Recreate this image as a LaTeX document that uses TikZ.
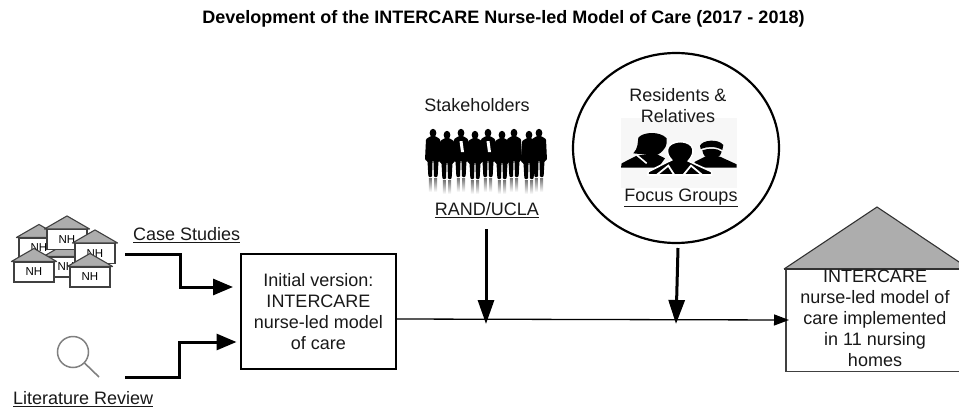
\documentclass[tikz,border=0pt]{standalone}
\usepackage{fontspec}
\setmainfont{Liberation Sans}
\usetikzlibrary{arrows.meta,calc}
\newcommand{\fs}[1]{\fontsize{#1}{#1}\selectfont}
\newcommand{\smallhouse}[3]{%
  \node[nhbox,minimum width=40pt,minimum height=20pt] (#3) at (#1,#2) {NH};
  \fill[roofgray] ($(#3.north west)+(-2,0)$) -- ($(#3.north)+(0,-13)$) -- ($(#3.north east)+(2,0)$) -- cycle;
  \draw[line width=1.1pt,draw=black!75,line join=round] ($(#3.north west)+(-2,0)$) -- ($(#3.north)+(0,-13)$) -- ($(#3.north east)+(2,0)$) -- cycle;
}
\newcommand{\suit}[2]{%
  \fill[black] (#1,#2) circle[x radius=3.4,y radius=4.2];
  \fill[black,rounded corners=1pt] (#1-2,#2+3) -- (#1+2,#2+3) -- (#1+7,#2+6) -- (#1+8,#2+27) -- (#1+5.5,#2+28) -- (#1+4.6,#2+44) -- (#1+1,#2+44) -- (#1+.4,#2+27) -- (#1-.4,#2+27) -- (#1-1,#2+44) -- (#1-4.6,#2+44) -- (#1-5.5,#2+28) -- (#1-8,#2+27) -- (#1-7,#2+6) -- cycle;
  \shade[top color=black!55,bottom color=white] (#1-4.2,#2+45) rectangle (#1-1.2,#2+59);
  \shade[top color=black!55,bottom color=white] (#1+1.2,#2+45) rectangle (#1+4.2,#2+59);
}
\definecolor{roofgray}{HTML}{ADADAD}
\tikzset{
  x=1pt,y=-1pt,
  nhbox/.style={draw=black!75,fill=white,line width=1.1pt,inner sep=0pt,font=\fs{11.5}},
  txt/.style={align=center,inner sep=0pt,font=\fs{18},text=black!90},
  thick arrow/.style={line width=3pt,-{Triangle[length=20pt,width=16pt]},line join=miter},
  vert arrow/.style={line width=3pt,-{Triangle[length=24pt,width=16pt]}},
  main arrow/.style={line width=1.3pt,-{Triangle[length=15pt,width=11pt]}},
}
\begin{document}
\begin{tikzpicture}
\useasboundingbox (0,0) rectangle (959,410);
\node[inner sep=0pt,font=\bfseries\fs{18}] (title) at (503.5,18.5) {Development of the INTERCARE Nurse-led Model of Care (2017 - 2018)};

% nursing homes cluster
\smallhouse{39}{248}{ha}
\smallhouse{66}{267}{hb}
\smallhouse{67}{239.5}{hc}
\smallhouse{95}{253.5}{hd}
\smallhouse{34}{272}{he}
\smallhouse{90}{277}{hf}
\node[txt,anchor=west] (case) at (133,235) {\underline{Case Studies}};

% magnifier
\draw[draw=black!50,line width=1.5pt] (73,352) circle[radius=15.5] coordinate (lens);
\draw[draw=black!50,line width=1.6pt] (84.5,363) -- (99,377);
\node[txt,anchor=west] (lit) at (13,399) {\underline{Literature Review}};

% box
\node[draw,fill=white,minimum width=155pt,minimum height=115pt,txt,line width=1.1pt] (init) at (318.5,311.5) {Initial version:\\[3pt]INTERCARE\\[3pt]nurse-led model\\[3pt]of care};

\coordinate (caseStart) at (125,254);
\coordinate (litStart) at (125,377);
\draw[thick arrow] (caseStart) -- (180,254) -- (180,287) -- (233,287);
\draw[thick arrow] (litStart) -- (179,377) -- (179,342) -- (236.5,342);

% final house
\node[draw=black!75,line width=1.1pt,fill=white,minimum width=175pt,minimum height=103pt,inner sep=0pt] (home) at (873.5,320) {};
\fill[roofgray] (784,269) -- (877,207) -- (962,264) -- (962,269) -- cycle;
\draw[draw=black!80,line width=1.1pt] (784,269) -- (877,207) -- (962,264);
\draw[draw=black!80,line width=1.1pt] (784,269) -- (962,269);
\node[txt,anchor=north] (hometext) at (875,270) {INTERCARE\\[3pt]nurse-led model of\\[3pt]care implemented\\[3pt]in 11 nursing\\[3pt]homes};

% main line
\coordinate (j1) at (486,324);
\coordinate (j2) at (676,324);
\draw[main arrow] (init.east |- 0,319) -- (789,320);

% stakeholders
\node[txt] (stake) at (477,105) {Stakeholders};
\foreach \xx/\yy in {433/133,447/135,461/133,475/135,488/133,502/135,514/133,529/135,539/133}{\suit{\xx}{\yy}}
\fill[white] (459.5,141) -- (462.5,141) -- (464,152) -- (461,152) -- cycle;
\fill[white] (486.5,141) -- (489.5,141) -- (491,152) -- (488,152) -- cycle;
\node[txt] (rand) at (487,210) {\underline{RAND/UCLA}};
\coordinate (randS) at (486,229);
\draw[vert arrow] (randS) -- (j1);

% residents circle
\draw[line width=2.2pt] (676,148) circle[x radius=103,y radius=95];
\fill[black!3] (621,118) rectangle (737,188);
\node[txt] (res) at (678,106) {Residents \&\\[3pt]Relatives};
% busts
\begin{scope}[shift={(615,125)},x=.3333pt,y=-.3333pt]
% left bust
\fill[black] (55,85) .. controls (70,70) and (68,50) .. (70,38) .. controls (85,20) and (135,18) .. (155,40) .. controls (158,60) and (150,75) .. (130,88) -- (118,92) -- (65,86) -- cycle;
\fill[black] (18,128) -- (20,115) -- (65,92) -- (120,85) -- (150,100) -- (130,128) -- cycle;
% right bust
\fill[black] (255,62) .. controls (262,45) and (310,40) .. (325,60) -- (322,75) .. controls (300,62) and (275,65) .. (257,72) -- cycle;
\fill[black] (262,76) .. controls (280,70) and (305,68) .. (320,80) .. controls (318,95) and (300,105) .. (285,102) .. controls (272,100) and (264,90) .. (262,76) -- cycle;
\fill[black] (240,110) -- (270,95) -- (315,95) -- (365,118) -- (365,128) -- (230,128) -- cycle;
% middle bust
\fill[black,draw=white,line width=1.6pt] (98,150) -- (100,140) -- (155,112) -- (170,105) .. controls (150,85) and (150,52) .. (196,50) .. controls (242,52) and (242,85) .. (220,108) -- (235,115) -- (290,140) -- (290,150) -- cycle;
\draw[white,line width=1.8pt] (125,150) -- (160,122) -- (178,150);
\draw[white,line width=1.8pt] (262,150) -- (228,122) -- (205,150);
\draw[white,line width=1.6pt] (65,90) -- (95,115);
\end{scope}
\node[txt] (focus) at (681,198) {\underline{Focus Groups}};
\coordinate (focusS) at (678,248);
\draw[vert arrow] (focusS) -- (j2);
\end{tikzpicture}
\end{document}
